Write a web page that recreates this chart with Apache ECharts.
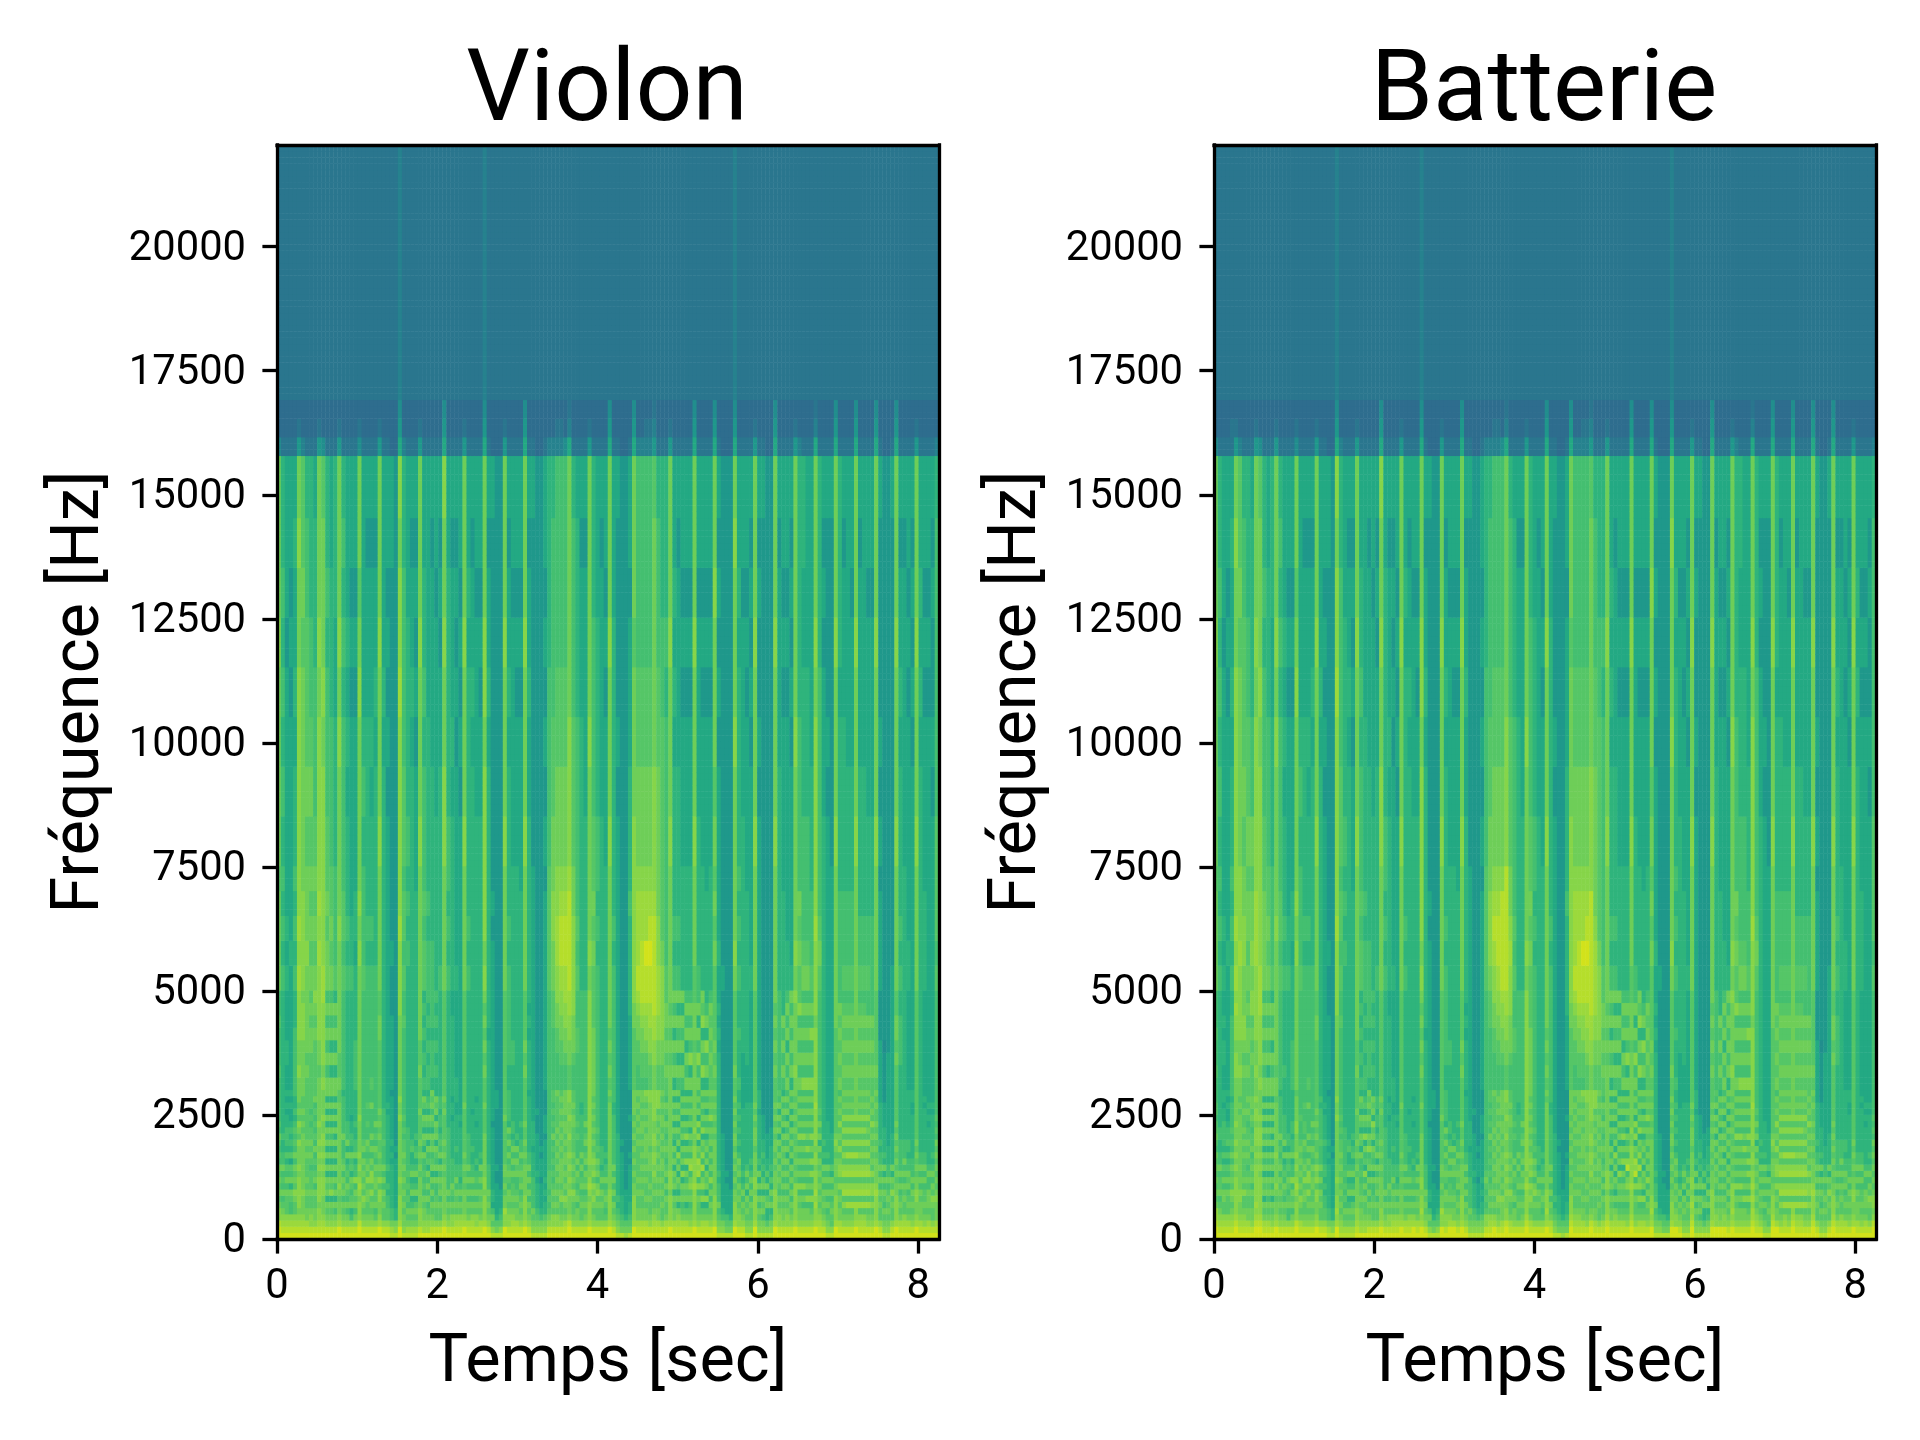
<!DOCTYPE html>
<html><head><meta charset="utf-8">
<script src="https://cdn.jsdelivr.net/npm/echarts@6/dist/echarts.min.js"></script>
<style>html,body{margin:0;background:#fff}#c{width:1920px;height:1440px}</style></head>
<body><div id="c"></div>
<script>
const panelTitles = ["Violon", "Batterie"];
const xAxisLabel = "Temps [sec]";
const yAxisLabel = "Fréquence [Hz]";
const timeMax = 8.26;
const freqMax = 22050;
const timeTicks = [0, 2, 4, 6, 8];
const freqTicks = [0, 2500, 5000, 7500, 10000, 12500, 15000, 17500, 20000];
// upper frequency edge (Hz) of each band, one list per group of a column string
const bandsLow = [125,250,375,500,625,750,875,1000,1125,1250,1375,1500,1625,1750,1875,2000,2125,2250,2375,2500,2625,2750,2875,3000];
const bandsMid = [3250,3500,3750,4000,4250,4500,4750,5000];
const bandsHigh = [5500,6000,6500,7000,7500,8500,9500,10500,11500,12500,13500,14500,15800];
const bandsTop = [16150,16500,16900,22050];
// magnitude level (hex digit 0..f) read per time slice, low to high frequency
const violonColumns = [
"eedbba9a9a9a8989a8988888 89888988 aaaa9aaaabaaa 4112",
"edcba98a898a8877877777777 77777777 8787878787877 2112",
"edcb999a8a8979788877676776 66776666 7676666665666 2112",
"edcb889a7a8969787876676766 66666666 6766666656566 2112",
"edcb99ab9a9a8a898987877877 88888777 8787877676676 2112",
"edcbabbbbbabaaab9ab9a9aaa9 abaabbbb cbcbbbbbbaaba 5212",
"edcbaaabaaaaaaaaa9a9a99a99 aaaabbba bbbbaaaaa9a99 3112",
"edcaa99a9a999a9a9999999999 9a9aaaaa abaaa9a999887 2112",
"edbba99a99989a9a9989899999 999aa9a9 a9a9a9a988777 2112",
"edbaa99a8a9898a8989898a989 9999a9ab a9a9a98887776 2112",
"edcbbabbbbabababaabaaaaaa a9aabbbb bcbcbbbbabaaa 5212",
"edcbaaabbbabababbaabaaaaa babbbbbc cbbbbbbabaaa9 4112",
"edba9a7a9a7a7a7a8a7a7a7a8 a8a8a8a8 aa9a99888787 2112",
"edba9a7b9a7a7a7a8a7a7a7a8 a7a7a8a8 a9a998887776 2112",
"edba8a7a8a7a7a7a7a7a7a7a7 a7a7a8a7 98888777667 2112",
"eecbaa9abaaaaaaaaaaaaa999 a99aaaaa aabaaaababaaa 5212",
"edba9a8a9a8a9888a8888887 88888888 9899888878787 2112",
"edba8a89a8987a7a88877777 77777777 8787776767666 2112",
"edb87a989a798a7887767 77777777 8776666656566 2112",
"edba8a9a8b887a8877877777 88887777 7677666656566 2112",
"eedbbbabcbababaaaaabaaaa9 aaaaaaaa ababaaaaba9aa 4212",
"edba9ab9a9a9a8a988888888 88888888 9888878766666 2112",
"edba99aa9b9a989a88988988 88888888 8787777766656 2112",
"edba9a9b9bb9a8a8a8888a88 98888888 8787776766656 2112",
"edb98a99aa9a89a898a88888 88888888 8777777676656 2112",
"eecbaabb9b9a9a99a9a9a999 9999aa99 aaaaabaaabaaa 5212",
"edb99a9a8a8a888988888777 77777777 7777777676666 2112",
"edb998878778777777776766 66666666 6666665656566 2112",
"dca8877777776767666666656 66666655 5655555555566 1112",
"dba7766666666565555555555 55555555 5555555555555 1112",
"eecbbbbaabaaaaaaaaabaabaa aaaaaabb bbcbbbbbcbbab 6543",
"dbaa9a9a9a9a9a9989898888 88888988 9899899888877 3112",
"dca9a898989888888877777 77777777 7878787777666 2112",
"dca9a87a87a8779877777777 77777777 7777777676656 2112",
"dca9a97a87a87987877777777 77777777 7777666565656 2112",
"edbbbaaaaa9a9a9a9999a999 9a99aaaa aaaaabaaabaaa 5212",
"ecbaa9a898988a79a79a79a7 87878787 9989888787766 2112",
"ecba98a8a8a798a7a79a7987 88787878 8878777766666 2112",
"edba9a8a8a7a98a9a79a8a9a 78887888 8877777666656 2112",
"edb99a988a7a89a7a9a7a9a7 78787878 7777776666566 2112",
"edb99a8a9a8a7a8987887887 77777777 8777777665656 2112",
"eecbaaaaaa9a9a9a9999a9a9 99999999 aaaaabbaabaab 6542",
"edba9a8a8888888888777777 77777777 8787887777766 2112",
"edbb9a89a8888777777677677 77777766 7777776766656 2112",
"edcb9a9a8a8877877777667 76666666 7666666565656 2112",
"edcb9a8a878877777767666 66666666 6666665656566 2112",
"eecbaaaa9a9a9a9999999a99 99999999 aaaaabaaabaaa 5212",
"edca9a8a8a8a888887777777 77777777 8787777776766 2112",
"edcb9a8a8a8877877777677 77777777 7777777676656 2112",
"edbb9a8a8987877777677767 77777777 7777776666566 2112",
"edca9a9a8a8a78777777777 77777777 7777776656566 2112",
"eecbbbbabbaaaaaaa9999a999 9a9a9a9a babbbbbabbaaa 6543",
"edba9a9a88887777777777777 77776777 7777777676656 2112",
"db9a86776666666666566 66666666 6656555555556 1112",
"da97666665565555555556 55555555 5555555555555 1112",
"db9876665555555555555 55555555 5555555555555 1112",
"eebbcaa9a9aa9999999a99 99999999 aaaaabaaabaaa 5212",
"edbba9aa89a98a8a8a78888 77888888 8787777676656 2112",
"edcba9a998a8a8a87887777 77887777 7777766666566 2112",
"edcaa9a988a9a8a78777777 77777777 7777766656566 2112",
"edba9a98a9a98a8877877777 77777777 7777666656566 2112",
"eecbbbbaaaaa9a9a99a99999 9a9a9999 aaaaabaaabaaa 6542",
"edba9a8a8a8a887777777776 77776767 7777776676656 2112",
"dba9a888887777677776666 66666666 6666655555556 2112",
"dba9877776766666655565 55555555 5555555555555 1112",
"dba8766665666565555555 55555555 5555555555555 1112",
"dba9776767666666566655 66666666 6666565656566 2112",
"edba98989998888888888888 88888888 9999988887777 3112",
"edbb9a9a98989898a8989899 88888999 aabbaa9988887 3112",
"edbb9a9a9a9a9a9a9a99999a 88899aab bccbbaa998888 3212",
"edba99ba9aaaa9a9a9a9a9a9 8899aabb cddcbaa998888 3212",
"edca9ab9a9a9aa9a9aa9aaaa 889aabbc cddcbaa998888 4112",
"eedbaaababababaabaabaabb 99aabbcc ddddcbbbaaaaa 6322",
"edba99ab9a9a9a9999aa9a9 889aaabb bbbaa99988887 2112",
"edbaa8a989a8a88898988888 88899888 9898888877776 2112",
"edb99a98a98a8a8888887788 88888888 7777777766656 2112",
"edba9a98a9a8a98a98a88888 88888888 7777776666656 2112",
"eecbbbabcbaabbbbbbbbbbbb bbbbbbbb abaaaaabaaaaa 5212",
"edba9abab9baba9a9a9a9a9a aaaaa999 9a9a99888877 2112",
"edb99a9ba8a9a8988988888 88888888 8787887777666 2112",
"edb99a9a8a87888777777777 77777777 7777776666656 2112",
"edb989a98a887877777777 77777777 7777766656566 2112",
"eecbbbbbaaaaaaaaaaaaaa9a 9a9a9aaa aaaaabaaabaaa 6542",
"edba9a8a8a8a888888887788 88888888 8787777777666 2112",
"dba98787777777777666666 66666666 6666665655556 2112",
"da9877766666665655555 55555555 5555555555555 1112",
"ca9766665555555555555 55555555 5555555555555 1112",
"da98776666665655555655 66666677 7778777666566 2112",
"eecbbbbaa9a9a9a9a9a9aaa 99999aab bbbbbbaaa9aaa 6542",
"edcaa99a9a99999a9a9a9a9a 8899aabc dcccbaa998888 3112",
"edcaa99a9a9a9a9a9aa9a9aa 899aabcd ddccbaa998888 3112",
"edcaa9a99a9a9aaaa9a9a9ab 899abbcd deccbaa998888 3212",
"edba99a9a99aaa9aaaaaaabb 99abbccd dedcbaa998888 3212",
"edcba99a9ababbabbaabbbbb aabbccdd dddcbbbaaaaa9 5322",
"edcaa99a9a9a9a9a9a9a9bbb 99aabbcc cbbaaaa998887 2112",
"edb99a9a9a9aa9a9a9aa9a9a 99aabbbb ba9999998877 2112",
"edca99a8a8a989a989a89a89 9a9a9aa9 9888888878777 2112",
"eecbbbbabbbaaaaaaaaaaaaa aa9a9a9a aaaaabaaabaaa 5212",
"edcaa9a7a9a7a8a78a7a8a7a 7a8a7a8a 8787777676766 2112",
"edcba7a79a7a8b7a8a7a8a7a 8a7a8a7a 8787777666656 2112",
"edca98a9a7b7a8a7a8a7a8a7 8a7a8a7a 7777766656566 2112",
"edca97a9a8a7b8a7b8a7a8a7 a8a7a8a8 7777766656566 2112",
"edba98a9ba8cb8a8a7a8a8a7 a7b8a8a8 7777766656566 2112",
"eecbbbbbcbbbbbbaabaaaaaa aaa9aaa9 9aaaabaaabaaa 6542",
"edba99a8b8cbc9a7b8b7a8a8 a8b8a7a8 8777776666566 2112",
"edca97b8ba8c8b9a7b8a8a8a 7b8a7b9a 7777766656566 2112",
"edca97b7a9a7a8a97a8a7a8a 7a8b7a87 7777666656566 2112",
"edba9a8a8b8a8a8a9a8b9a9a 99a9a9a8 7777766656566 2112",
"eecbbbbaaaaaaaaa9a9a9a9a 9a9a9999 9a9a9a9aaabaaa 6542",
"dba98a8887877777777777 77767676 6766666565656 2112",
"dba8766666666666655555 55555555 6555555555555 1112",
"da98666665655555555555 55555555 5555555555555 1112",
"da97666655555555555555 55555555 5555555555555 1112",
"eecbbbaa9a9a9a9aa9a9a9a9 9a999999 abaaaaabaaabaa 6543",
"edbba9a9a8a9a8787878787 87778777 8787877776766 2112",
"edba9a8a878777777777766 66677777 7777776666566 2112",
"dba9a9a7a8a8777777777766 66777777 7777666656566 2112",
"dba99a8a8a87877777777766 66666666 7666666565656 2112",
"eecbbbbabbaaaa9aaa9a9a99 99999999 aaaaabaaabaaa 5212",
"dba9a8a7a7a78777777767 66666666 6666665655656 2112",
"dba8a9a7a97878776666555 55555555 5555555555556 2112",
"db977a97a797766665555 55555555 5555555555555 1112",
"dba87a8a797877766655555 55555555 5555555555555 1112",
"eecbbbbbaaa9a9aa9a9a9a99 9a9a9a9a aaaaabaaabaaa 6542",
"edbba9a89a9a8a8a7a8a7a89 88888888 7777777666656 2112",
"edbaa9a8a8a8a9a8a7a8a8a7 8a8a8a77 7777666656566 2112",
"edbba9a8a8a8a7a8a8a7a8a8 a8a7a8a8 7766666656566 2112",
"edba9a8a8a8a7a8a8a7a7a8a 7a8a8a8a 7666666565656 2112",
"eecbbbbbb9a9a9a99a9a9a9a abaaaaab abaaaaabaaaaa 5212",
"edbaa9a8b8a8a8a8b8a8a8a8 a8a8a8b9 9a9a88887777 3112",
"edbaa8a8b8a8a8a8b8a8a8a8 b8a8a8a8 a98888777667 2112",
"edbaa8b8a8a8a8b8a8a8a8a8 b8a8a8a8 a98888777666 2112",
"edba98b8a8b8b8a8b8a8a8a8 b8a8b8a8 98887776666 2112",
"eecbbcbcbbbabbabbbbbbcbb bbbbbabb bbcbbbbbabaaa 6322",
"edcba9a9a9a9a8a7a8a89888 88888888 9a988888877 2112",
"edba9a9a8a8a787877777777 77777777 7777776665656 2112",
"dba98a8a8a8a787777766666 66666666 6666665655556 2112",
"db99a98a8a7977777666666 66666666 6666655555556 2112",
"eecbbbbaa9aaa9aba9999999 99999aaa aaaaabaaabaaa 6542",
"edcaa9a9b9bba9b9a9b9a9a8 a9a9a9a8 88887777677 2112",
"edba9b9cb9cb9b9b9b9b9a9a 9a9a9a98 9888777766656 2112",
"edba9c9cb9cb9c9b9b9b9a9a 9a9a9a98 988877766666 2112",
"edba9c9cb9cb9c9b9b9b9a9a 9a9a9a98 988877766656 2112",
"eecbbc9cb9cb9c9b9b9baaaa aaaaaaaa aaaaabaaabaaa 6542",
"edcb9c9cb9cb9b9b9b9b9a9a 9a9a9a98 9887777666656 2112",
"edcb9c9cb9cb9b9b9b9b9a9a 9a9a9a98 988777766666 2112",
"edba9c9cb9cb9b9b9a9b9a9a 9a9a9a88 9887776666566 2112",
"edba9b9bb9b9a9a9a9b9a9a9 9a9a9a88 8887776666566 2112",
"eecbbbbcbaaaa9a9a9a99a9a 9a999999 aaaaabaaabaaa 6542",
"edb99a9a8a8a887877777766 66665555 6666565655556 2112",
"dba9a89a8a7a787777666655 55545555 5555555555555 1112",
"dba9a9a98a887776666666 66655555 5555555555555 1112",
"edb99a9b9a7a777776666666 66666666 6555555555556 2112",
"eecbbbbaa9a9a9a9a9a99999 99a9aa99 aaaaabaaabaaa 6542",
"edca9a98a8a8888877777777 77888877 8787777676656 2112",
"edcb99a9a8a8a88877777777 77777777 7777766666656 2112",
"edca9a98a9a887887777777 66666666 7766666656566 2112",
"edba9a9a8a8887777777667 66666666 6666666565656 2112",
"eecbaabbaa9a9a9a99999999 99999999 aaaaabaaabaaa 5212",
"edcaaa9a8a8a887777777777 77777777 7777777676766 2112",
"edba9a998a8a887777777676 66666666 7777666656566 2112",
"edca9aaa88a8777777676766 66666666 6666666656566 2112",
"edb99ab9a8a8787777776766 66666666 6666665655656 2112",
"edcaaaba9a9a9a9a89898888 88888888 9899998888887 3112"
];
const batterieColumns = [
"eedcca9a9a9a9a89a9989988 89889888 aaaa9aaaabaaa 4112",
"edcba98a998a8877887777777 77777777 8787878787877 2112",
"edcb99aa8a89797888877677 66776766 7676666665666 2112",
"edcb999a8a8979798876676766 66666666 6766666656566 2112",
"edcba9ab9a9a8a898988887877 88888877 8787877676676 2212",
"eedcbbbbbbabababaabaaaaaa abbabbcb cbcbbbbbbaaba 5212",
"edcbaabbaaaaaaaaaaaa9a9a9 abaabbbb bcbbbaaaa9a99 3112",
"edcba99b9a999a9a9a99a9999 9a9abbaa abbaa9a999887 2112",
"edcaa99a9a989a9a9989a9a9a 9a9aa9a9 a9aa9a9988777 2112",
"edbaa99a8a9a98a9989a9aa9a 99a9a9bb abaa9a8877776 2112",
"eedcbcbbbbbbababbbabbabab abaabbbb bcccbbbbabaaa 5212",
"eedcbbbbbbabababbbabaaaaa babbbbcc cbbbbbbabaaa9 4112",
"edca9a7a9a7a8a7a8a7a7a7a8 a8a8a8a8 aaaa99888787 2112",
"edca9a8a9a7a8a7a8a7a7a7a8 a7a8a8a8 a9a998887776 2112",
"edba9a7a8a7a8a7a7a7a7a7a7 a8a7a8a7 98888777667 2112",
"eecbaa9abaaaabaaaaaaaa9a9 a9aaaaaa aabaaaababaaa 5212",
"edba9a9a9a8a9898a8888887 88888888 9899888878787 2112",
"edba9a89a8987a7a88887777 78777777 8787776767666 2112",
"edb88a989a898a7887777 77777777 8776666656566 2112",
"edba8a9a8b887a8878877777 88887777 7677666656566 2112",
"eedbbbabcbababaaabbaaaa9 aaaaaaaa ababaaaaba9aa 4212",
"edca9ab9a9a9a9a988898888 88888888 9888878766666 2112",
"edba99aa9b9a989a89988988 88888888 8787777766656 2112",
"edba9a9b9bb9a8a8a8888a88 98888888 8787776766656 2112",
"edba9a99aa9a89a898a88888 88888888 8777777676656 2112",
"eecbaabb9bab9a99a9a9a999 9999aa99 aaaaabaaabaaa 5212",
"edb99a9a8a8a888988888787 77777777 7777777676666 2112",
"edb998878788777877776766 66666666 6666665656566 2112",
"dca8877777776767666666656 66666655 5655555555566 1112",
"dba7766666666565555555555 55555555 5555555555555 1112",
"eecbcbbaabaaaaaaaaabaabaa aaaaaabb bbcbbbbbcbbab 6543",
"dcba9a9a9a9a9a9989898888 88888988 9899899888877 3112",
"dca9a898989888888877777 77777777 7878787777666 2112",
"dca9a87a87a8779877777777 77777777 7777777676656 2112",
"dca9a97a87a87987877777777 77777777 7777666565656 2112",
"edcbbaaaaa9a9a9a9999a999 9a99aaaa aaaaabaaabaaa 5212",
"ecbaa9a998988a79a79a79a7 87878787 9989888787766 2112",
"ecba99a8a8b798a7b79a7987 88787878 8878777766666 2112",
"edba9a8a8a7a98b9a79a8a9a 78887888 8877777666656 2112",
"edb99a988a7a89a7a9b7a9a7 78787878 7777776666566 2112",
"edb99a8a9a8a7a8987887887 77777777 8777777665656 2112",
"eecbbaaaaa9a9a9a9999a9a9 99999999 aaaaabbaabaab 6542",
"edba9a8a8888888888777777 77777777 8787887777766 2112",
"edbb9a89a8888777777677677 77777766 7777776766656 2112",
"edcb9a9a8a8877877777667 76666666 7666666565656 2112",
"edcb9a8a878877777767666 66666666 6666665656566 2112",
"eecbaaaa9a9a9a9999999a99 99999999 aaaaabaaabaaa 5212",
"edca9a8a8a8a888887777777 77777777 8787777776766 2112",
"edcb9a8a8a8877877777677 77777777 7777777676656 2112",
"eecb9a8a8987877777677767 77777777 7777776666566 2112",
"edca9a9a8a8a78777777777 77777777 7777776656566 2112",
"eecbcbbabbaaaaaaa9999a999 9a9a9a9a babbbbbabbaaa 6543",
"edba9a9a88887777777777777 77776777 7777777676656 2112",
"db9a86776666666666566 66666666 6656555555556 1112",
"da97666665565555555556 55555555 5555555555555 1112",
"db9876665555555555555 55555555 5555555555555 1112",
"eebbcaa9a9aa9999999a99 99999999 aaaaabaaabaaa 5212",
"edbba9aa89a98a8a8a78888 77888888 8787777676656 2112",
"eecba9a998a8a8a87887777 77887777 7777766666566 2112",
"eecaa9a988a9a8a78777777 77777777 7777766656566 2112",
"edba9a98a9a98a8877877777 77777777 7777666656566 2112",
"eecbbbbaaaaa9a9a99a99999 9a9a9999 aaaaabaaabaaa 6542",
"edba9a8a8a8a887777777776 77776767 7777776676656 2112",
"dba9a888887777677776666 66666666 6666655555556 2112",
"dba9877776766666655565 55555555 5555555555555 1112",
"dba8766665666565555555 55555555 5555555555555 1112",
"dba9776767666666566655 66666666 6666565656566 2112",
"edbb98989a98888888888888 88888888 9999988887777 3112",
"edcb9a9a98989898a8989899 88888999 abbbaa9988887 3112",
"eecb9a9a9a9a9a9a9a99999a 88899aab bcdcbaa998888 3212",
"edba9aba9aaaa9a9a9a9a9a9 8899aabb cddcbaa998888 3212",
"edcaaab9a9a9aa9a9aa9aaaa 889aabbc ddddbaa998888 4112",
"eedbbaababababaabaabaabb 99aabbcc dddddbbbaaaaa 6322",
"edca99ab9a9a9a9999aa9a9 889aaabb bcbaa99988887 2112",
"edbaa8a989a8a88898988888 88899888 9898888877776 2112",
"edb99a98a98a8a8888887788 88888888 7777777766656 2112",
"edba9a98a9a8a98a98a88888 88888888 7777776666656 2112",
"eedcbbbbcbabbbbbbbbbbbbb bbbbbbbb abaaaaabaaaaa 5212",
"edca9abab9baba9a9a9a9a9a aaaaa999 9a9a99888877 2112",
"edb99a9ba8a9a8988988888 88888888 8787887777666 2112",
"edb99a9a8a87888777777777 77777777 7777776666656 2112",
"edb989a98a887877777777 77777777 7777766656566 2112",
"eecbcbbbaaaaaaaaaaaaaa9a 9a9a9aaa aaaaabaaabaaa 6542",
"edca9a8a8a8a888888887788 88888888 8787777777666 2112",
"dba98787777777777666666 66666666 6666665655556 2112",
"da9877766666665655555 55555555 5555555555555 1112",
"ca9766665555555555555 55555555 5555555555555 1112",
"da98776666665655555655 66666677 7778777666566 2112",
"eedcbbbaa9a9a9a9a9a9aaa 99999aab bbbbbbaaa9aaa 6542",
"edcba99a9a99999a9a9a9a9a 8899aabc dcccbaa998888 3112",
"edcba99a9a9a9a9a9aa9a9aa 899aabcd ddccbaa998888 3112",
"edcaa9a99a9a9aaaa9a9a9ab 899abbcd deccbaa998888 3212",
"edba99a9a99aaa9aaaaaaabb 99abbccd dedcbaa998888 3212",
"eedba99a9ababbabbaabbbbb aabbccdd ddddbbbaaaaa9 5322",
"edcaa99a9a9a9a9a9a9a9bbb 99aabbcc ccbaaaa998887 2112",
"edb99a9a9a9aa9a9a9aa9a9a 99aabbbb ba9999998877 2112",
"edca99a8a8a989a989a89a89 9a9a9aa9 9888888878777 2112",
"eedcbbbabbbaaaaaaaaaaaaa aa9a9a9a aaaaabaaabaaa 5212",
"edcaa9a8a9a7a8a78a7a8a7a 7a8a7a8a 8787777676766 2112",
"edcba8a79a7a8b7a8a7a8a7a 8a7a8a7a 8787777666656 2112",
"edca98a9a8b7a8a7a8a7a8a7 8a7a8a7a 7777766656566 2112",
"edca98a9a8a7b8a7b8a7a8a7 a8a7a8a8 7777766656566 2112",
"edba98a9ba8db8a8a7a8a8a7 a7b8a8a8 7777766656566 2112",
"eedcbbbbcbbbbbbaabaaaaaa aaa9aaa9 9aaaabaaabaaa 6542",
"edba99a8b8dbc9a7b8b7a8a8 a8b8a7a8 8777776666566 2112",
"edca98b8ba8c8b9a7b8a8a8a 7b8a7b9a 7777766656566 2112",
"edca98b7a9a7a8a97a8a7a8a 7a8b7a87 7777666656566 2112",
"edba9a8a8b8a8a8a9a8b9a9a 99a9a9a8 7777766656566 2112",
"eecbcbbaaaaaaaaa9a9a9a9a 9a9a9999 9a9a9a9aaabaaa 6542",
"dba98a8887877777777777 77767676 6766666565656 2112",
"dba8766666666666655555 55555555 6555555555555 1112",
"da98666665655555555555 55555555 5555555555555 1112",
"da97666655555555555555 55555555 5555555555555 1112",
"eecbbbaa9a9a9a9aa9a9a9a9 9a999999 abaaaaabaaabaa 6543",
"eebba9a9a8a9a8787878787 87778777 8787877776766 2112",
"edba9a8a878777777777766 66677777 7777776666566 2112",
"dba9a9a7a8a8777777777766 66777777 7777666656566 2112",
"dba99a8a8a87877777777766 66666666 7666666565656 2112",
"eedcbcbabbaaaa9aaa9a9a99 99999999 aaaaabaaabaaa 5212",
"dba9a8a7a7a78777777767 66666666 6666665655656 2112",
"dba8a9a7a97878776666555 55555555 5555555555556 2112",
"db977a97a797766665555 55555555 5555555555555 1112",
"dba87a8a797877766655555 55555555 5555555555555 1112",
"eecbbbbbaaa9a9aa9a9a9a99 9a9a9a9a aaaaabaaabaaa 6542",
"eebba9a89a9a8a8a7a8a7a89 88888888 7777777666656 2112",
"eebaa9a8a8a8a9a8a7a8a8a7 8a8a8a77 7777666656566 2112",
"eebba9a8a8a8a7a8a8a7a8a8 a8a7a8a8 7766666656566 2112",
"edba9a8a8a8a7a8a8a7a7a8a 7a8a8a8a 7666666565656 2112",
"eecbcbbbb9a9a9a99a9a9a9a abaaaaab abaaaaabaaaaa 5212",
"edbaa9a8b8a8a8a8b8a8a8a8 a8a8a8b9 9a9a88887777 3112",
"edbaa8a8b8a8a8a8b8a8a8a8 b8a8a8a8 a98888777667 2112",
"edbaa8b8a8a8a8b8a8a8a8a8 b8a8a8a8 a98888777666 2112",
"edba98b8a8b8b8a8b8a8a8a8 b8a8b8a8 98887776666 2112",
"eedccbcbcbbabbabbbbbbcbb bbbbbabb bbcbbbbbabaaa 6322",
"edcba9a9a9a9a8a7a8a89888 88888888 9a988888877 2112",
"edba9a9a8a8a787877777777 77777777 7777776665656 2112",
"dba98a8a8a8a787777766666 66666666 6666665655556 2112",
"db99a98a8a7977777666666 66666666 6666655555556 2112",
"eedcbbbaa9aaa9aba9999999 99999aaa aaaaabaaabaaa 6542",
"eecaa9a9b9bba9b9a9b9a9a8 a9a9a9a8 88887777677 2112",
"edba9b9cb9cb9b9b9b9b9a9a 9a9a9a98 9888777766656 2112",
"edcb9c9cb9cb9c9b9b9b9a9a 9a9a9a98 988877766666 2112",
"edba9c9cb9cb9c9b9b9b9a9a 9a9a9a98 988877766656 2112",
"eedcbc9cb9cb9c9b9b9baaaa aaaaaaaa aaaaabaaabaaa 6542",
"edcb9c9cb9cb9b9b9b9b9a9a 9a9a9a98 9887777666656 2112",
"edcb9c9cb9cb9b9b9b9b9a9a 9a9a9a98 988777766666 2112",
"edba9c9cb9cb9b9b9a9b9a9a 9a9a9a88 9887776666566 2112",
"edba9b9bb9b9a9a9a9b9a9a9 9a9a9a88 8887776666566 2112",
"eedcbbbcbaaaa9a9a9a99a9a 9a999999 aaaaabaaabaaa 6542",
"edb99a9a8a8a887877777766 66665555 6666565655556 2112",
"dba9a89a8a7a787777666655 55545555 5555555555555 1112",
"dba9a9a98a887776666666 66655555 5555555555555 1112",
"edb99a9b9a7a777776666666 66666666 6555555555556 2112",
"eedcbbbaa9a9a9a9a9a99999 99a9aa99 aaaaabaaabaaa 6542",
"edca9a98a8a8888877777777 77888877 8787777676656 2112",
"edcb99a9a8a8a88877777777 77777777 7777766666656 2112",
"edca9a98a9a887887777777 66666666 7766666656566 2112",
"edba9a9a8a8887777777667 66666666 6666666565656 2112",
"eecbaabbaa9a9a9a99999999 99999999 aaaaabaaabaaa 5212",
"edcaaa9a8a8a887777777777 77777777 7777777676766 2112",
"edba9a998a8a887777777676 66666666 7777666656566 2112",
"edca9aaa88a8777777676766 66666666 6666666656566 2112",
"edb99ab9a8a8787777776766 66666666 6666665655656 2112",
"eedbabba9a9a9a9a89898888 88888888 9899998888887 3112"
];
const levelColors = ["#35608d","#2e6d8e","#2a768e","#26828e","#218e8d","#1f988b","#23a983","#2fb47c","#44bf70","#55c667","#6ece58","#86d549","#9bd93c","#b5de2b","#d2e21b","#f1e51d"];

const bandGroups = [bandsLow, bandsMid, bandsHigh, bandsTop];
const rowCount = 176;
function cells(columns) {
  const out = [];
  columns.forEach((column, ci) => {
    const groups = column.split(" ");
    for (let r = 0; r < rowCount; r++) {
      const f = (r + 0.5) * freqMax / rowCount;
      let g = 0;
      while (f >= bandGroups[g][bandGroups[g].length - 1]) g++;
      const b = bandGroups[g].findIndex(top => f < top);
      const text = groups[g];
      const ch = text.charAt(Math.min(b, text.length - 1));
      out.push([ci, r, parseInt(ch, 16)]);
    }
  });
  return out;
}
const FONT = "Roboto";
const plotLeft = [277, 1214], plotTop = 145, plotW = 662, plotH = 1094;
const rows = Array.from({length: rowCount}, (_, i) => i);
const grid = [], xAxis = [], yAxis = [], series = [], title = [];
const spine = {show: true, onZero: false, lineStyle: {color: "#000", width: 3.3, cap: "square"}};
[violonColumns, batterieColumns].forEach((cols, i) => {
  grid.push({left: plotLeft[i], top: plotTop, width: plotW, height: plotH, show: false});
  title.push({text: panelTitles[i], left: plotLeft[i] + plotW / 2 - 6, top: 40, textAlign: "center",
    textStyle: {fontFamily: FONT, fontSize: 100, fontWeight: "normal", color: "#000"}});
  const base = xAxis.length;
  xAxis.push({type: "category", gridIndex: i, data: cols.map((_, k) => k), show: false, boundaryGap: true});
  yAxis.push({type: "category", gridIndex: i, data: rows, show: false, boundaryGap: true});
  xAxis.push({type: "value", gridIndex: i, min: 0, max: timeMax, position: "bottom", z: 10,
    name: xAxisLabel, nameLocation: "middle", nameGap: 92,
    nameTextStyle: {fontFamily: FONT, fontSize: 66.7, color: "#000"},
    axisLine: spine, splitLine: {show: false},
    axisTick: {show: true, length: 14.6, lineStyle: {width: 3.3, color: "#000"}, customValues: timeTicks},
    axisLabel: {show: true, margin: 28, fontFamily: FONT, fontSize: 41.7, color: "#000", customValues: timeTicks, formatter: v => String(v)}});
  yAxis.push({type: "value", gridIndex: i, min: 0, max: freqMax, position: "left", z: 10,
    name: yAxisLabel, nameLocation: "middle", nameGap: 162, nameRotate: 90,
    nameTextStyle: {fontFamily: FONT, fontSize: 66.7, color: "#000"},
    axisLine: spine, splitLine: {show: false},
    axisTick: {show: true, length: 14.6, lineStyle: {width: 3.3, color: "#000"}, customValues: freqTicks},
    axisLabel: {show: true, margin: 31, verticalAlign: "top", padding: [-18, 0, 0, 0], fontFamily: FONT, fontSize: 41.7, color: "#000", customValues: freqTicks, formatter: v => String(v)}});
  xAxis.push({type: "value", gridIndex: i, min: 0, max: timeMax, position: "top", z: 10,
    axisLine: spine, axisTick: {show: false}, axisLabel: {show: false}, splitLine: {show: false}});
  yAxis.push({type: "value", gridIndex: i, min: 0, max: freqMax, position: "right", z: 10,
    axisLine: spine, axisTick: {show: false}, axisLabel: {show: false}, splitLine: {show: false}});
  series.push({type: "heatmap", name: panelTitles[i], xAxisIndex: base, yAxisIndex: base,
    data: cells(cols), progressive: 0, animation: false, silent: true, emphasis: {disabled: true}});
});
const chart = echarts.init(document.getElementById("c"), null, {renderer: "canvas", width: 1920, height: 1440});
chart.setOption({
  animation: false, backgroundColor: "#fff", title, grid, xAxis, yAxis, series,
  visualMap: {show: false, type: "continuous", min: 0, max: 15, seriesIndex: [0, 1], inRange: {color: levelColors}}
});
</script></body></html>
